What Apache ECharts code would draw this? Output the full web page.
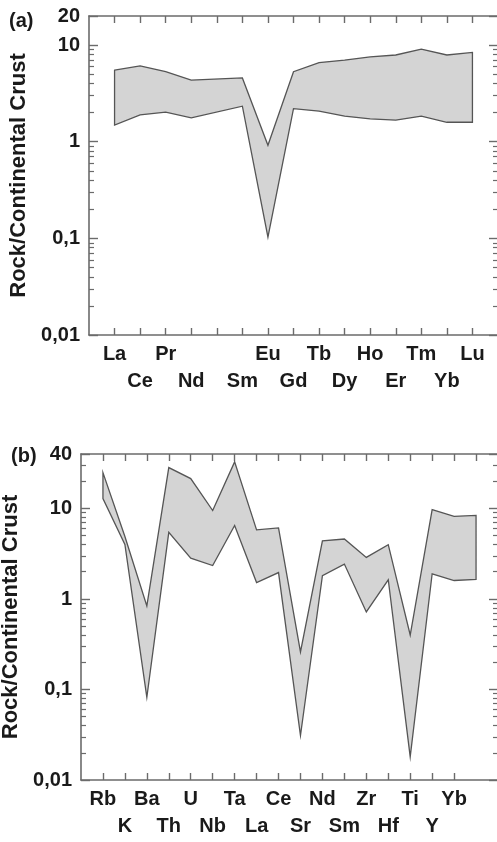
<!DOCTYPE html>
<html>
<head>
<meta charset="utf-8">
<script src="https://cdn.jsdelivr.net/npm/echarts@6/dist/echarts.min.js"></script>
<style>
  html, body { margin: 0; padding: 0; background: #fff; }
  #chart { width: 497px; height: 842px; }
</style>
</head>
<body>
<div id="chart"></div>
<script>
// (a) REE pattern, Pm has no value
const reeNames = ['La', 'Ce', 'Pr', 'Nd', '', 'Sm', 'Eu', 'Gd', 'Tb', 'Dy', 'Ho', 'Er', 'Tm', 'Yb', 'Lu']
const reeX = [0, 1, 2, 3, 5, 6, 7, 8, 9, 10, 11, 12, 13, 14]
const reeMax = [5.5, 6.1, 5.3, 4.35, 4.57, 0.92, 5.3, 6.6, 7.0, 7.55, 7.9, 9.1, 7.9, 8.4]
const reeMin = [1.49, 1.9, 2.02, 1.77, 2.33, 0.103, 2.2, 2.07, 1.84, 1.72, 1.67, 1.84, 1.59, 1.59]

// (b) multi-element pattern
const spiderNames = ['Rb', 'K', 'Ba', 'Th', 'U', 'Nb', 'Ta', 'La', 'Ce', 'Sr', 'Nd', 'Sm', 'Zr', 'Hf', 'Ti', 'Y', 'Yb', 'Lu']
const spiderX = spiderNames.map((_, i) => i)
const spiderMax = [24.9, 4.9, 0.84, 28.3, 21.4, 9.5, 32.7, 5.8, 6.1, 0.26, 4.4, 4.6, 2.88, 3.98, 0.40, 9.7, 8.2, 8.4]
const spiderMin = [12.9, 4.0, 0.082, 5.45, 2.83, 2.34, 6.5, 1.52, 1.96, 0.031, 1.81, 2.43, 0.72, 1.63, 0.018, 1.9, 1.6, 1.65]

const yMaxA = 20
const yMaxB = 40
const yMin = 0.01

const FONT = '"Liberation Sans", Arial, sans-serif'
const TEXT = '#1a1a1a'
const AXIS = '#6b6b6b'

// minor ticks 2..9 of every decade
function minorTicks (max) {
  const out = []
  ;[0.01, 0.1, 1, 10].forEach(d => {
    for (let k = 2; k <= 9; k++) {
      const v = +(d * k).toPrecision(3)
      if (v < max) out.push(v)
    }
  })
  return out
}

function xAxes (gridIndex, names) {
  const idx = names.map((_, i) => i)
  const base = {
    type: 'value',
    gridIndex,
    min: -1,
    max: names.length,
    splitLine: { show: false },
    axisLine: { show: true, onZero: false, lineStyle: { color: AXIS, width: 1.6 } },
    axisTick: { show: true, inside: true, length: 7, customValues: idx, lineStyle: { color: AXIS, width: 1.4 } }
  }
  return [
    Object.assign({}, base, {
      position: 'bottom',
      axisLabel: {
        customValues: idx,
        margin: 6,
        fontFamily: FONT,
        fontSize: 20,
        fontWeight: 'bold',
        color: TEXT,
        lineHeight: 27,
        verticalAlign: 'top',
        formatter: v => {
          const name = names[Math.round(v)] || ''
          return Math.round(v) % 2 ? '\n' + name : name
        }
      }
    }),
    Object.assign({}, base, { position: 'top', axisLabel: { show: false } })
  ]
}

function yAxes (gridIndex, max, nameGap) {
  const base = {
    type: 'log',
    logBase: 10,
    gridIndex,
    min: yMin,
    max: max,
    splitLine: { show: false },
    minorTick: { show: false }
  }
  const line = { show: true, onZero: false, lineStyle: { color: AXIS, width: 1.6 } }
  // invisible line, keeps the minor tick axis drawn
  const hidden = { show: true, onZero: false, lineStyle: { color: 'rgba(0,0,0,0)', width: 0 } }
  const major = { show: true, inside: true, length: 9, lineStyle: { color: AXIS, width: 1.4 } }
  const minor = { show: true, inside: true, length: 5, customValues: minorTicks(max), lineStyle: { color: AXIS, width: 1.2 } }
  return [
    Object.assign({}, base, {
      position: 'left',
      axisLine: line,
      axisTick: major,
      name: 'Rock/Continental Crust',
      nameLocation: 'middle',
      nameGap: nameGap,
      nameTextStyle: { fontFamily: FONT, fontSize: 22, fontWeight: 'bold', color: TEXT },
      axisLabel: {
        margin: 9,
        fontFamily: FONT,
        fontSize: 20,
        fontWeight: 'bold',
        color: TEXT,
        formatter: v => String(+(+v).toPrecision(3)).replace('.', ',')
      }
    }),
    Object.assign({}, base, { position: 'left', axisLine: hidden, axisTick: minor, axisLabel: { show: false } }),
    Object.assign({}, base, { position: 'right', axisLine: line, axisTick: major, axisLabel: { show: false } }),
    Object.assign({}, base, { position: 'right', axisLine: hidden, axisTick: minor, axisLabel: { show: false } })
  ]
}

// gray band between lower and upper pattern
function band (xAxisIndex, yAxisIndex, xs, upper, lower) {
  return {
    type: 'custom',
    xAxisIndex,
    yAxisIndex,
    silent: true,
    clip: false,
    data: [[xs[0], upper[0]]],
    renderItem: (params, api) => {
      const pts = []
      xs.forEach((x, i) => pts.push(api.coord([x, upper[i]])))
      for (let i = xs.length - 1; i >= 0; i--) pts.push(api.coord([xs[i], lower[i]]))
      return {
        type: 'polygon',
        shape: { points: pts },
        style: { fill: '#d4d4d4', stroke: '#555', lineWidth: 1.3, lineJoin: 'miter' }
      }
    }
  }
}

const chart = echarts.init(document.getElementById('chart'), null, { renderer: 'canvas' })
chart.setOption({
  animation: false,
  backgroundColor: '#fff',
  title: [
    { text: '(a)', left: 4, top: 6, textStyle: { fontFamily: FONT, fontSize: 20, fontWeight: 'bold', color: TEXT } },
    { text: '(b)', left: 6, top: 441, textStyle: { fontFamily: FONT, fontSize: 20, fontWeight: 'bold', color: TEXT } }
  ],
  grid: [
    { left: 89, top: 16, width: 409, height: 319, outerBoundsMode: 'none' },
    { left: 81, top: 454, width: 417, height: 326, outerBoundsMode: 'none' }
  ],
  xAxis: xAxes(0, reeNames).concat(xAxes(1, spiderNames)),
  yAxis: yAxes(0, yMaxA, 59).concat(yAxes(1, yMaxB, 50)),
  series: [
    band(0, 0, reeX, reeMax, reeMin),
    band(2, 4, spiderX, spiderMax, spiderMin)
  ]
})
</script>
</body>
</html>
